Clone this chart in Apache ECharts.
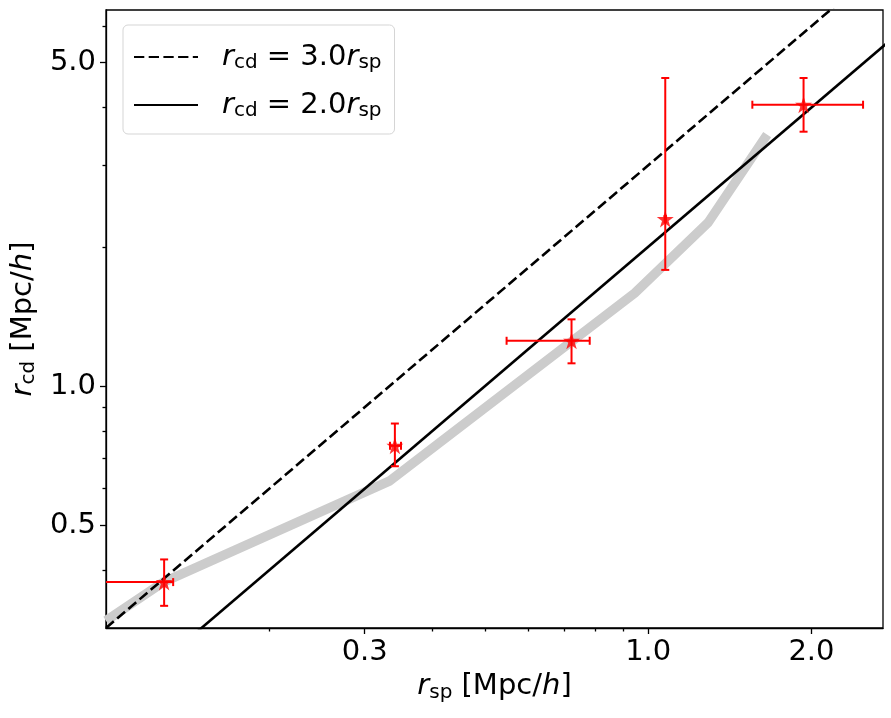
<!DOCTYPE html>
<html>
<head>
<meta charset="utf-8">
<title>r_cd vs r_sp</title>
<script src="https://cdn.jsdelivr.net/npm/echarts@6/dist/echarts.min.js"></script>
<style>
html, body { margin: 0; padding: 0; background: #fff; }
#chart { width: 891px; height: 718px; }
</style>
</head>
<body>
<div id="chart"></div>
<script>
// tick positions
var xTicks = [0.3, 1.0, 2.0];
var xMinorTicks = [0.2, 0.4, 0.5, 0.6, 0.7, 0.8, 0.9];
var yTicks = [0.5, 1.0, 5.0];
var yMinorTicks = [0.4, 0.6, 0.7, 0.8, 0.9, 2, 3, 4, 6];

// measured points with x / y error ranges
var rsp   = [0.128, 0.341, 0.722, 1.075, 1.934];
var rcd   = [0.377, 0.743, 1.253, 2.298, 4.057];
var rspLo = [0.080, 0.334, 0.548, 1.072, 1.556];
var rspHi = [0.133, 0.350, 0.780, 1.078, 2.490];
var rcdLo = [0.335, 0.671, 1.120, 1.783, 3.547];
var rcdHi = [0.422, 0.830, 1.394, 4.634, 4.634];

// grey model curve
var modelX = [0.100, 0.1276, 0.333, 0.945, 1.289, 1.657];
var modelY = [0.311, 0.377, 0.623, 1.590, 2.254, 3.494];

// reference lines r_cd = 3 r_sp and r_cd = 2 r_sp
var lineX  = [0.1, 3.0];
var line3Y = [0.3, 9.0];
var line2Y = [0.2, 6.0];

var FONT = 'DejaVu Sans';

function pairs(xs, ys) {
    var out = [];
    for (var i = 0; i < xs.length; i++) out.push([xs[i], ys[i]]);
    return out;
}

var pointData = [];
for (var i = 0; i < rsp.length; i++) {
    pointData.push([rsp[i], rcd[i], rspLo[i], rspHi[i], rcdLo[i], rcdHi[i]]);
}

var mathRich = {
    i: { fontFamily: FONT, fontStyle: 'italic', fontSize: 29, color: '#000' },
    s: { fontFamily: FONT, fontSize: 20, padding: [12, 0, 0, 0], color: '#000' },
    t: { fontFamily: FONT, fontSize: 29, color: '#000' },
    g: { width: 19 }
};

function fmtTick(v) { return Number(v).toFixed(1); }

function renderErrorBar(params, api) {
    var x = api.value(0), y = api.value(1);
    var c = api.coord([x, y]);
    var xl = api.coord([api.value(2), y]);
    var xh = api.coord([api.value(3), y]);
    var yl = api.coord([x, api.value(4)]);
    var yh = api.coord([x, api.value(5)]);
    var cap = 4;
    var st = { stroke: '#ff0000', lineWidth: 2 };
    return {
        type: 'group',
        children: [
            { type: 'line', shape: { x1: xl[0], y1: c[1], x2: xh[0], y2: c[1] }, style: st },
            { type: 'line', shape: { x1: c[0], y1: yl[1], x2: c[0], y2: yh[1] }, style: st },
            { type: 'line', shape: { x1: xl[0], y1: c[1] - cap, x2: xl[0], y2: c[1] + cap }, style: st },
            { type: 'line', shape: { x1: xh[0], y1: c[1] - cap, x2: xh[0], y2: c[1] + cap }, style: st },
            { type: 'line', shape: { x1: c[0] - cap, y1: yl[1], x2: c[0] + cap, y2: yl[1] }, style: st },
            { type: 'line', shape: { x1: c[0] - cap, y1: yh[1], x2: c[0] + cap, y2: yh[1] }, style: st }
        ]
    };
}

var chart = echarts.init(document.getElementById('chart'));

var axisLineStyle = { color: '#000', width: 1.3 };

var option = {
    backgroundColor: '#fff',
    animation: false,
    grid: {
        left: 106, right: 8, top: 10, bottom: 90,
        show: true, borderColor: '#000', borderWidth: 1.3,
        containLabel: false
    },
    legend: {
        left: 123, top: 25,
        orient: 'vertical',
        padding: [15, 13, 12, 10],
        itemWidth: 64, itemHeight: 14, itemGap: 14,
        backgroundColor: '#fff',
        borderColor: '#d5d5d5', borderWidth: 1, borderRadius: 5,
        itemStyle: { opacity: 0 },
        data: ['r3', 'r2'],
        formatter: function (name) {
            var k = name === 'r3' ? '3.0' : '2.0';
            return '{g|}{i|r}{s|cd}{t| = ' + k + '}{i|r}{s|sp}';
        },
        textStyle: { fontFamily: FONT, fontSize: 29, color: '#000', lineHeight: 34, rich: mathRich }
    },
    xAxis: [{
        type: 'log', logBase: 10, min: 0.1, max: 2.71,
        position: 'bottom',
        axisLine: { show: true, lineStyle: axisLineStyle },
        axisTick: { show: true, customValues: xTicks, length: 6, lineStyle: axisLineStyle },
        axisLabel: { customValues: xTicks, formatter: fmtTick, fontFamily: FONT, fontSize: 29, color: '#000', margin: 10 },
        splitLine: { show: false },
        minorTick: { show: false },
        name: '{i|r}{s|sp}{t| [Mpc/}{i|h}{t|]}',
        nameLocation: 'middle', nameGap: 36,
        nameTextStyle: { fontFamily: FONT, fontSize: 29, color: '#000', rich: mathRich }
    }, {
        type: 'log', logBase: 10, min: 0.1, max: 2.71,
        position: 'bottom',
        axisLine: { show: false },
        axisTick: { show: true, customValues: xMinorTicks, length: 3.5, lineStyle: axisLineStyle },
        axisLabel: { show: false },
        splitLine: { show: false }
    }],
    yAxis: [{
        type: 'log', logBase: 10, min: 0.3, max: 6.5,
        position: 'left',
        axisLine: { show: true, lineStyle: axisLineStyle },
        axisTick: { show: true, customValues: yTicks, length: 6, lineStyle: axisLineStyle },
        axisLabel: { customValues: yTicks, formatter: fmtTick, fontFamily: FONT, fontSize: 29, color: '#000', margin: 10 },
        splitLine: { show: false },
        minorTick: { show: false },
        name: '{i|r}{s|cd}{t| [Mpc/}{i|h}{t|]}',
        nameLocation: 'middle', nameGap: 64,
        nameTextStyle: { fontFamily: FONT, fontSize: 29, color: '#000', rich: mathRich }
    }, {
        type: 'log', logBase: 10, min: 0.3, max: 6.5,
        position: 'left',
        axisLine: { show: false },
        axisTick: { show: true, customValues: yMinorTicks, length: 3.5, lineStyle: axisLineStyle },
        axisLabel: { show: false },
        splitLine: { show: false }
    }],
    series: [{
        name: 'model',
        type: 'line',
        data: pairs(modelX, modelY),
        symbol: 'none',
        lineStyle: { color: '#cccccc', width: 9.5, join: 'miter' },
        z: 1,
        silent: true
    }, {
        name: 'r3',
        type: 'line',
        data: pairs(lineX, line3Y),
        symbol: 'none',
        lineStyle: { color: '#000', width: 2.6, type: [10.3, 4.4] },
        itemStyle: { color: '#000' },
        z: 2
    }, {
        name: 'r2',
        type: 'line',
        data: pairs(lineX, line2Y),
        symbol: 'none',
        lineStyle: { color: '#000', width: 2.6 },
        itemStyle: { color: '#000' },
        z: 2
    }, {
        name: 'errors',
        type: 'custom',
        renderItem: renderErrorBar,
        data: pointData,
        encode: { x: 0, y: 1 },
        clip: true,
        z: 3
    }, {
        name: 'points',
        type: 'scatter',
        data: pairs(rsp, rcd),
        symbol: 'path://M50,0 L61.2,34.5 L97.6,34.5 L68.2,55.9 L79.4,90.5 L50,69.1 L20.6,90.5 L31.8,55.9 L2.4,34.5 L38.8,34.5 Z',
        symbolSize: 17,
        itemStyle: { color: '#ff0000' },
        z: 4
    }]
};

chart.setOption(option);
</script>
</body>
</html>
